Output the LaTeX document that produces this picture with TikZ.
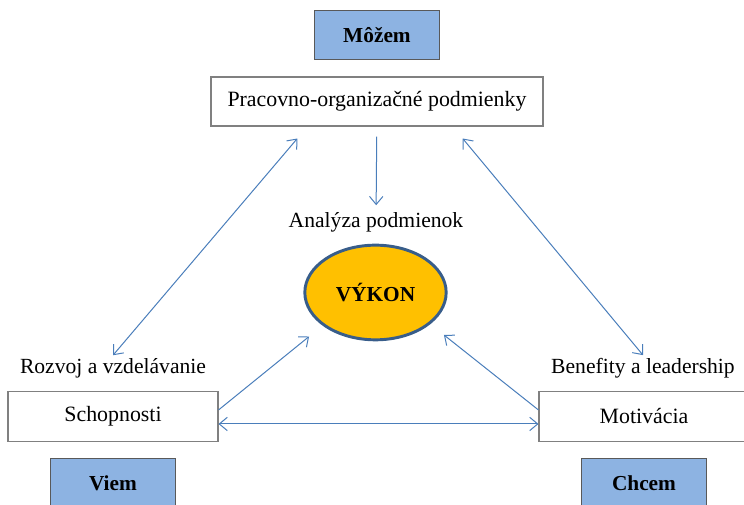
\documentclass[tikz,border=0pt]{standalone}
\usepackage{fontspec}
\setmainfont{Liberation Serif}
\usepackage{tikz}
\usetikzlibrary{shapes.geometric, arrows.meta}
\definecolor{lineblue}{HTML}{4A7EBB}
\definecolor{boxblue}{HTML}{8DB3E2}
\definecolor{ringblue}{HTML}{385D8A}
\definecolor{gold}{HTML}{FFC000}
\tikzstyle{plain} = [rectangle, minimum width=157.5pt, minimum height=38pt, text centered, draw=black!50, line width=0.8pt, fill=white, font=\fontsize{16.4}{19}\selectfont]
\tikzstyle{tag} = [rectangle, minimum width=93.5pt, minimum height=37pt, text centered, draw=black!65, line width=0.8pt, fill=boxblue, font=\fontsize{16}{19}\selectfont\bfseries]
\tikzstyle{caption} = [inner sep=2pt, font=\fontsize{16.2}{19}\selectfont]
\tikzstyle{core} = [ellipse, minimum width=106pt, minimum height=71pt, draw=ringblue, line width=2.2pt, fill=gold, font=\fontsize{16}{19}\selectfont\bfseries]
\tikzstyle{arrow} = [draw=lineblue, line width=0.75pt, -{Straight Barb[length=6pt,width=10pt]}]
\tikzstyle{twoway} = [draw=lineblue, line width=0.75pt, {Straight Barb[length=6pt,width=10pt]}-{Straight Barb[length=6pt,width=10pt]}]

\begin{document}
\begin{tikzpicture}[x=0.75pt, y=-0.75pt, node distance=50pt]
\useasboundingbox (0,0) rectangle (744,505);
\node (pracovno) [plain, minimum width=249pt, minimum height=36.75pt] at (377,101.5) {Pracovno-organizačné podmienky};
\node (mozem) [tag, above of=pracovno] {Môžem};
\node (analyza) [caption] at (376,222) {Analýza podmienok};
\node (vykon) [core] at (375.5,292.5) {VÝKON};
\node (rozvoj) [caption] at (113,368) {Rozvoj a vzdelávanie};
\node (schop) [plain] at (113,416.5) {Schopnosti};
\node (benefity) [caption] at (643,368) {Benefity a leadership};
\node (motiv) [plain] at (644,416.5) {Motivácia};
\node (viem) [tag, below of=schop] {Viem};
\node (chcem) [tag, below of=motiv] {Chcem};
\draw [arrow, shorten <=7.5pt, shorten >=3pt] (pracovno) -- (analyza);
\draw [twoway, shorten >=-1pt] (rozvoj.north) -- ([xshift=64.5pt,yshift=-9.75pt]pracovno.south west);
\draw [twoway, shorten >=-1pt] (benefity.north) -- ([xshift=-60pt,yshift=-9.75pt]pracovno.south east);
\draw [arrow, shorten >=13pt] ([yshift=4.9pt]schop.east) -- (vykon.212);
\draw [arrow, shorten >=13pt] ([yshift=4.9pt]motiv.west) -- (vykon.330);
\draw [twoway] ([yshift=-5.6pt]schop.east) -- ([yshift=-5.6pt]motiv.west);
\end{tikzpicture}
\end{document}
